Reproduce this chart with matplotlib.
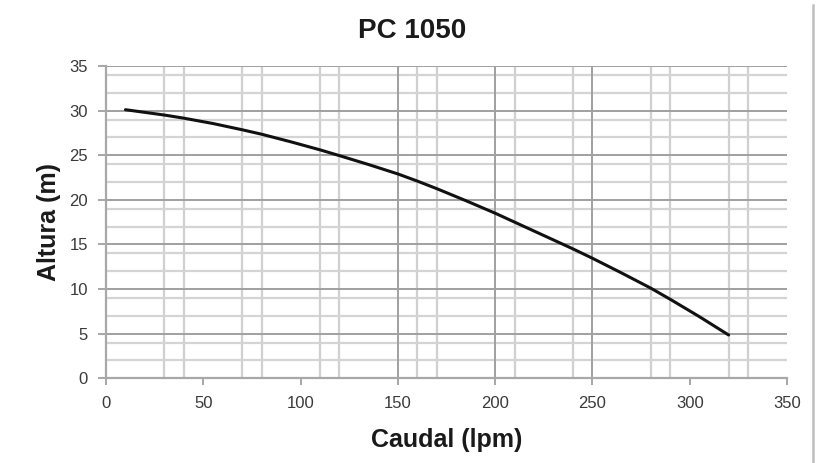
import matplotlib
matplotlib.use('Agg')
import matplotlib.pyplot as plt
from matplotlib.lines import Line2D

caudal = [10, 20, 30, 40, 55, 70, 80, 95, 110, 120, 135, 150, 160, 170,
          185, 200, 210, 225, 240, 250, 265, 280, 290, 305, 320]
altura = [30.1, 29.8, 29.5, 29.15, 28.55, 27.85, 27.35, 26.5, 25.6, 24.95,
          23.95, 22.9, 22.1, 21.25, 19.9, 18.5, 17.5, 16.0, 14.5, 13.45,
          11.8, 10.1, 8.85, 6.9, 4.85]

xticks = [0, 50, 100, 150, 200, 250, 300, 350]
yticks = [0, 5, 10, 15, 20, 25, 30, 35]

# lineas de la cuadricula
grid_x_major = [150, 200, 250]
grid_x_minor = [30, 40, 70, 80, 110, 120, 160, 170, 210, 240, 280, 290, 320, 330]
grid_y_major = [5, 10, 15, 20, 25, 30, 35]
grid_y_minor = [2, 4, 7, 9, 12, 14, 17, 19, 22, 24, 27, 29, 32, 34]

fuente = ['Liberation Sans', 'DejaVu Sans']

fig = plt.figure(figsize=(8.18, 4.63), dpi=100)
ax = fig.add_axes([0.1296, 0.183, 0.8325, 0.6745])

for gx in grid_x_minor:
    ax.axvline(gx, color='#d0d0d0', lw=1.6, zorder=1)
for gy in grid_y_minor:
    ax.axhline(gy, color='#d4d4d4', lw=1.6, zorder=1)
for gx in grid_x_major:
    ax.axvline(gx, color='#a0a0a0', lw=1.4, zorder=1)
for gy in grid_y_major:
    ax.axhline(gy, color='#a0a0a0', lw=1.4, zorder=1)

ax.plot(caudal, altura, color='#111111', lw=2.2, solid_capstyle='round',
        solid_joinstyle='round', zorder=3)

ax.set_xlim(0, 350)
ax.set_ylim(0, 35)
ax.set_xticks(xticks)
ax.set_yticks(yticks)

for s in ['top', 'right']:
    ax.spines[s].set_visible(False)
for s in ['left', 'bottom']:
    ax.spines[s].set_color('#a8a8a8')
    ax.spines[s].set_linewidth(1.6)

ax.tick_params(axis='both', colors='#a0a0a0', labelcolor='#3a3a3a', width=1.3)
ax.tick_params(axis='y', length=6, pad=7)
ax.tick_params(axis='x', length=5, pad=8)
for lab in ax.get_xticklabels() + ax.get_yticklabels():
    lab.set_family(fuente)
    lab.set_fontsize(12)

fig.text(412 / 818, 1 - 31 / 463, 'PC 1050', family=fuente, fontweight='bold',
         fontsize=20, color='#1a1a1a', ha='center', va='center')
ax.set_xlabel('Caudal (lpm)', family=fuente, fontweight='bold', fontsize=18,
              labelpad=12, color='#1a1a1a')
ax.set_ylabel('Altura (m)', family=fuente, fontweight='bold', fontsize=18,
              labelpad=6, color='#1a1a1a')

fig.add_artist(Line2D([0.9935, 0.9935], [0.0, 0.99], transform=fig.transFigure,
                      color='#c0c0c0', lw=1.8))

fig.savefig('out.png', dpi=100)
